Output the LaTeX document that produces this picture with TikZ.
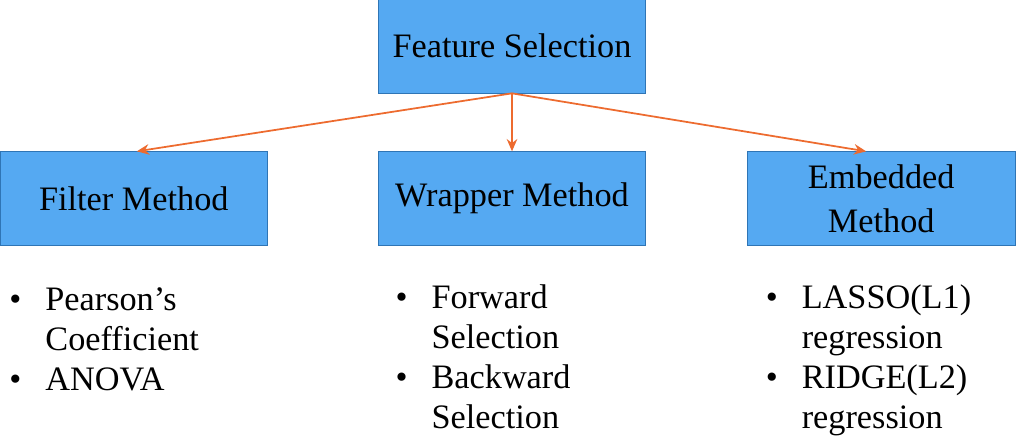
\documentclass[tikz,border=0pt]{standalone}
\usepackage{fontspec}
\setmainfont{Liberation Serif}
\newfontfamily\figfont{Liberation Serif}
\usepackage{xcolor}
\usetikzlibrary{arrows,arrows.meta,positioning}

\definecolor{boxblue}{HTML}{55A9F2}
\definecolor{edgeblue}{HTML}{2F75B5}
\definecolor{linkorange}{HTML}{ED6B2F}

\newcommand{\bulletlist}[1]{\begin{tabular}{@{}p{0.72cm}@{}l@{}}#1\end{tabular}}

\begin{document}
\begin{tikzpicture}[->,>=stealth,thick,node distance=1.2cm,
    method box/.style={rectangle,draw=edgeblue,fill=boxblue,thin,minimum width=5.35cm,minimum height=1.88cm,align=center,font=\figfont\fontsize{19.5}{23}\selectfont},
    method list/.style={anchor=north west,inner sep=0pt,font=\figfont\fontsize{19.5}{22.8}\selectfont},
    link/.style={->,>={Stealth[length=7pt,width=6pt]},linkorange,line width=1pt}]
    \useasboundingbox (0,0) rectangle (20.32,-8.76);

    \node[method box] (fs) at (10.24,-0.92) {Feature Selection};
    \node[method box] (wrapper) [below=1.16cm of fs] {Wrapper Method};
    \node[method box] (filter) [left=2.2cm of wrapper] {Filter Method};
    \node[method box] (embedded) [right=2.02cm of wrapper] {Embedded\\[2pt] Method};

    \path[link] (fs.south) edge ([xshift=0.06cm]filter.north)
        (fs.south) edge (wrapper.north)
        (fs.south) edge ([xshift=-0.3cm]embedded.north);

    % lists under the boxes
    \node[method list] (filterlist) [below right=0.72cm and 0.18cm of filter.south west]
        {\bulletlist{\textbullet & Pearson’s\\ & Coefficient\\ \textbullet & ANOVA}};
    \node[method list] (wrapperlist) [below right=0.68cm and 0.34cm of wrapper.south west]
        {\bulletlist{\textbullet & Forward\\ & Selection\\ \textbullet & Backward\\ & Selection}};
    \node[method list] (embeddedlist) [below right=0.68cm and 0.36cm of embedded.south west]
        {\bulletlist{\textbullet & LASSO(L1)\\ & regression\\ \textbullet & RIDGE(L2)\\ & regression}};

\end{tikzpicture}
\end{document}
